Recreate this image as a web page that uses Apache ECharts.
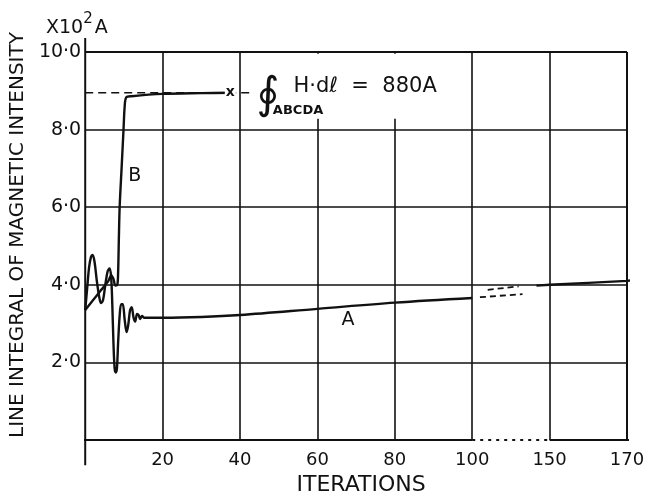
<!DOCTYPE html>
<html><head><meta charset="utf-8">
<script src="https://cdn.jsdelivr.net/npm/echarts@6/dist/echarts.min.js"></script>
<style>html,body{margin:0;padding:0;background:#fff}#c{width:654px;height:502px}</style>
</head><body><div id="c"></div>
<script>
// ---- data (x in iterations, y in x10^2 A) ----
const xTickLabels = ['', '20', '40', '60', '80', '100', '150', '170'];
const yTickLabels = ['', '2·0', '4·0', '6·0', '8·0', '10·0'];

const curveA_iter = [0, 0.5, 1.0, 1.5, 1.9, 2.4, 3.0, 3.6, 4.1, 4.6, 5.2, 5.8, 6.3, 6.7, 7.0, 7.3, 7.6, 7.9, 8.2, 8.5, 8.9, 9.3, 9.7, 10.2, 10.7, 11.1, 11.6, 12.0, 12.5, 12.9, 13.4, 13.8, 14.2, 14.7, 15.2, 17, 20, 30, 40, 60, 80, 100];
const curveA_val  = [3.35, 3.9, 4.45, 4.72, 4.77, 4.6, 4.1, 3.7, 3.53, 3.6, 4.0, 4.35, 4.42, 4.2, 3.5, 2.5, 1.85, 1.74, 1.85, 2.5, 3.2, 3.5, 3.5, 3.1, 2.78, 2.95, 3.35, 3.42, 3.15, 3.05, 3.25, 3.22, 3.12, 3.2, 3.15, 3.15, 3.15, 3.17, 3.22, 3.38, 3.54, 3.66];

const curveA_tail_iter = [141.5, 150, 160, 170, 171.5];
const curveA_tail_val  = [3.98, 4.0, 4.05, 4.1, 4.12];

const extLow_iter  = [105, 132.5];
const extLow_val   = [3.68, 3.76];
const extHigh_iter = [110, 130];
const extHigh_val  = [3.87, 3.96];

const curveB_iter = [0, 2, 4, 6, 6.7, 7.3, 7.8, 8.3, 8.5, 8.7, 8.9, 9.4, 9.9, 10.2, 10.6, 12, 20, 30, 37.5];
const curveB_val  = [3.35, 3.6, 3.85, 4.1, 4.25, 4.15, 3.98, 4.0, 4.3, 5.2, 6.0, 7.0, 8.0, 8.6, 8.83, 8.86, 8.92, 8.94, 8.95];

const integralLevel = 8.95;
const integralMarkIter = 37.5;
const integralDashIter = [0, 43.6];

// broken iteration axis: 0-100 linear, 100-150 compressed, 150-170 linear
function toAxis(it) {
  if (it <= 100) return it;
  if (it <= 150) return 100 + (it - 100) * 20 / 50;
  return 120 + (it - 150);
}
function pairs(xs, ys) { return xs.map((x, i) => [toAxis(x), ys[i]]); }

const INK = '#111';
const FONT = 'DejaVu Sans';

const chart = echarts.init(document.getElementById('c'), null, {renderer: 'canvas'});

function lineSeries(data, opts) {
  return Object.assign({
    type: 'line', data: data, showSymbol: false, symbol: 'none', silent: true,
    lineStyle: {color: INK, width: 2.4}, z: 3, animation: false
  }, opts || {});
}
function textPoint(x, y, label, z) {
  return {
    type: 'scatter', symbolSize: 0, silent: true, z: z || 6, animation: false,
    itemStyle: {opacity: 1, color: INK},
    data: [{value: [toAxis(x), y], label: Object.assign({show: true, position: 'inside', color: INK, fontFamily: FONT, textBorderWidth: 0, opacity: 1}, label)}]
  };
}

chart.setOption({
  animation: false,
  backgroundColor: '#fff',
  title: {
    text: '{a|X10}{s|2}{b|A}', left: 41, top: 7,
    textStyle: {fontWeight: 'normal', rich: {
      a: {fontFamily: FONT, fontSize: 19, fontWeight: 'normal', color: INK, verticalAlign: 'bottom', lineHeight: 26},
      b: {fontFamily: FONT, fontSize: 19, fontWeight: 'normal', color: INK, verticalAlign: 'bottom', lineHeight: 26, padding: [0, 0, 0, 2]},
      s: {fontFamily: FONT, fontSize: 15, fontWeight: 'normal', color: INK, verticalAlign: 'top', lineHeight: 26}
    }}
  },
  grid: {left: 82, right: 27, top: 52, bottom: 62},
  xAxis: {
    type: 'value', min: 0, max: 140, interval: 20,
    name: 'ITERATIONS', nameLocation: 'middle', nameGap: 28,
    nameTextStyle: {fontFamily: FONT, fontSize: 22, color: INK, padding: [0, 0, 0, 10]},
    axisLine: {show: false}, axisTick: {show: false},
    axisLabel: {fontFamily: FONT, fontSize: 18, color: INK, margin: 11,
      formatter: v => xTickLabels[Math.round(v / 20)]},
    splitLine: {show: true, showMinLine: false, lineStyle: {color: INK, width: 1.6}}
  },
  yAxis: {
    type: 'value', min: 0, max: 10, interval: 2,
    name: 'LINE INTEGRAL OF MAGNETIC INTENSITY', nameLocation: 'middle', nameGap: 48, nameRotate: 90,
    nameTextStyle: {fontFamily: FONT, fontSize: 20, color: INK, padding: [0, 0, 0, 22]},
    axisLine: {show: false}, axisTick: {show: false},
    axisLabel: {fontFamily: FONT, fontSize: 19, color: INK, margin: 4,
      formatter: v => yTickLabels[Math.round(v / 2)]},
    splitLine: {show: true, showMinLine: false, lineStyle: {color: INK, width: 1.6}}
  },
  series: [
    // axes / frame drawn as lines (x axis has a dotted break between 100 and 150)
    lineSeries([[toAxis(-4), 0], [toAxis(100), 0]], {clip: false, lineStyle: {color: INK, width: 2}}),
    lineSeries([[toAxis(100), 0], [toAxis(150), 0]], {clip: false, lineStyle: {color: INK, width: 2, type: [3, 5]}}),
    lineSeries([[toAxis(150), 0], [toAxis(171.5), 0]], {clip: false, lineStyle: {color: INK, width: 2}}),
    lineSeries([[0, -0.65], [0, 10.36]], {clip: false, z: 9, lineStyle: {color: INK, width: 2}}),
    lineSeries([[toAxis(170), 0], [toAxis(170), 10]], {lineStyle: {color: INK, width: 2}}),
    lineSeries([[0, 10], [toAxis(170), 10]], {clip: false, z: 9, lineStyle: {color: INK, width: 2}}),
    // curves
    Object.assign(lineSeries(pairs(curveA_iter, curveA_val)), {name: 'A', smooth: 0.35}),
    Object.assign(lineSeries(pairs(curveA_tail_iter, curveA_tail_val)), {name: 'A', clip: false}),
    lineSeries(pairs(extLow_iter, extLow_val), {lineStyle: {color: INK, width: 1.8, type: [6, 4]}}),
    lineSeries(pairs(extHigh_iter, extHigh_val), {lineStyle: {color: INK, width: 1.8, type: [6, 4]}}),
    Object.assign(lineSeries(pairs(curveB_iter, curveB_val)), {name: 'B', smooth: 0.3}),
    lineSeries(integralDashIter.map(x => [toAxis(x), integralLevel]), {lineStyle: {color: INK, width: 1.6, type: [8, 5]}}),
    // annotations
    textPoint(68.2, 9.12, {formatter: 'H·dℓ  =  880A', fontSize: 21, backgroundColor: '#fff', padding: [22, 2, 22, 34]}, 6),
    textPoint(47.2, 8.84, {formatter: '∮', fontSize: 44}, 8),
    textPoint(55.0, 8.5, {formatter: 'ABCDA', fontSize: 13, fontWeight: 'bold'}, 8),
    textPoint(integralMarkIter, integralLevel, {formatter: 'x', fontSize: 14, fontWeight: 'bold', backgroundColor: '#fff', padding: [0, 1, 0, 1]}, 8),
    textPoint(12.8, 6.8, {formatter: 'B', fontSize: 19}, 8),
    textPoint(67.9, 3.09, {formatter: 'A', fontSize: 19}, 8)
  ]
});
</script></body></html>
